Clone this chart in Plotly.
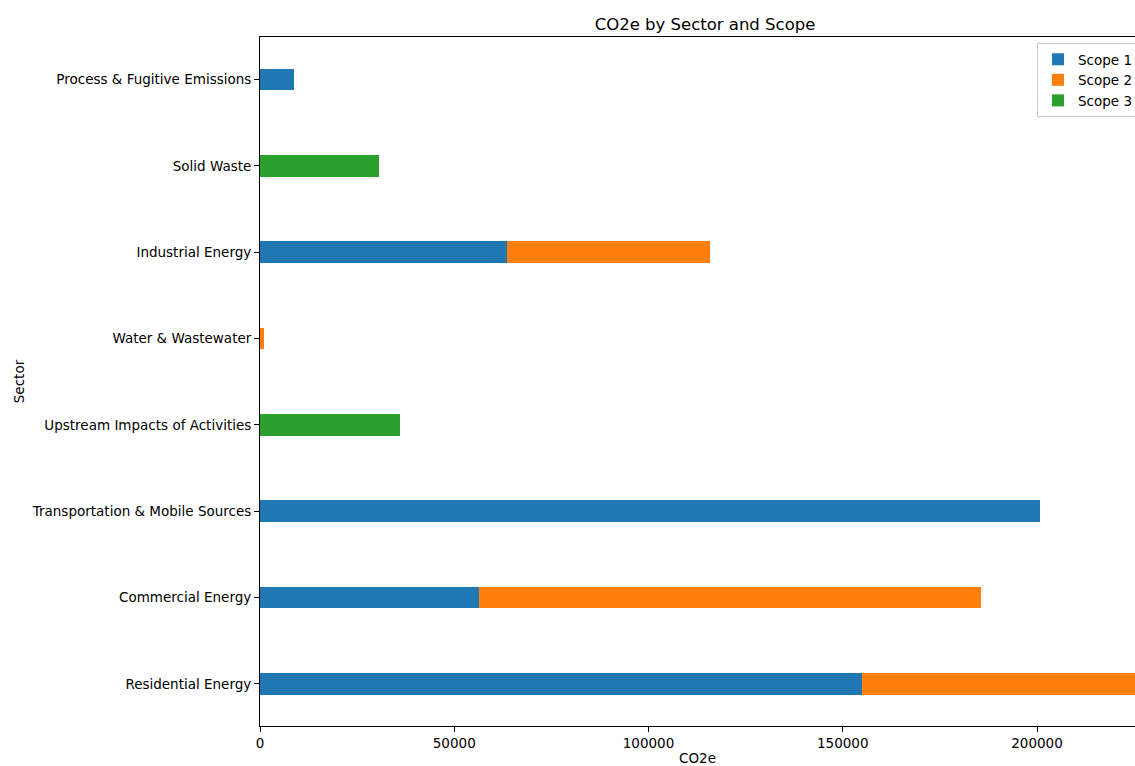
import plotly.graph_objects as go

sectors = ["Residential Energy", "Commercial Energy", "Transportation & Mobile Sources",
           "Upstream Impacts of Activities", "Water & Wastewater", "Industrial Energy",
           "Solid Waste", "Process & Fugitive Emissions"]
scope1 = [154950, 56370, 200770, 0, 0, 63580, 0, 8750]
scope2 = [80000, 129220, 0, 0, 1030, 52250, 0, 0]
scope3 = [0, 0, 0, 36040, 0, 0, 30630, 0]
series_names = ["Scope 1", "Scope 2", "Scope 3"]
colors = ["#1f77b4", "#ff7f0e", "#2ca02c"]

W, H = 1135, 766
L, T, B, R = 260, 37, 40, 0
px_per_unit = (1037 - 260) / 200000
xmax = (W - L - R) / px_per_unit

fig = go.Figure()
for name, vals, c in zip(series_names, [scope1, scope2, scope3], colors):
    fig.add_trace(go.Bar(y=sectors, x=vals, name=name, orientation="h",
                         marker=dict(color=c, line=dict(width=0))))

font = dict(family="DejaVu Sans", size=13.5, color="black")
fig.update_layout(
    width=W, height=H, barmode="stack", bargap=0.75,
    margin=dict(l=L, r=R, t=T, b=B, pad=0, autoexpand=False),
    plot_bgcolor="white", paper_bgcolor="white", font=font,
    title=dict(text="CO2e by Sector and Scope", x=705 / W, xanchor="center",
               y=1 - 24 / H, yanchor="middle", font=dict(family="DejaVu Sans", size=16.5, color="black")),
    legend=dict(x=(1037 - L) / (W - L - R), xanchor="left", y=1 - 6 / (H - T - B), yanchor="top",
                bordercolor="#cccccc", borderwidth=1, bgcolor="white",
                font=dict(family="DejaVu Sans", size=13.5, color="black"), traceorder="normal"),
    showlegend=True,
)
fig.update_xaxes(range=[0, xmax], dtick=50000, tick0=0, tickformat="d", automargin=False,
                 showgrid=False, zeroline=False, showline=True, linecolor="black", linewidth=1,
                 mirror=True, ticks="outside", ticklen=5, tickcolor="black",
                 title=dict(text="CO2e", standoff=10, font=font))
fig.update_yaxes(type="category", categoryorder="array", categoryarray=sectors, automargin=False,
                 range=[-0.487, 7.492], showgrid=False, zeroline=False, showline=True,
                 linecolor="black", linewidth=1, mirror=True, ticks="outside", ticklen=5,
                 tickcolor="black", title=dict(text="Sector", standoff=3, font=font))
fig.write_html("out.html")
